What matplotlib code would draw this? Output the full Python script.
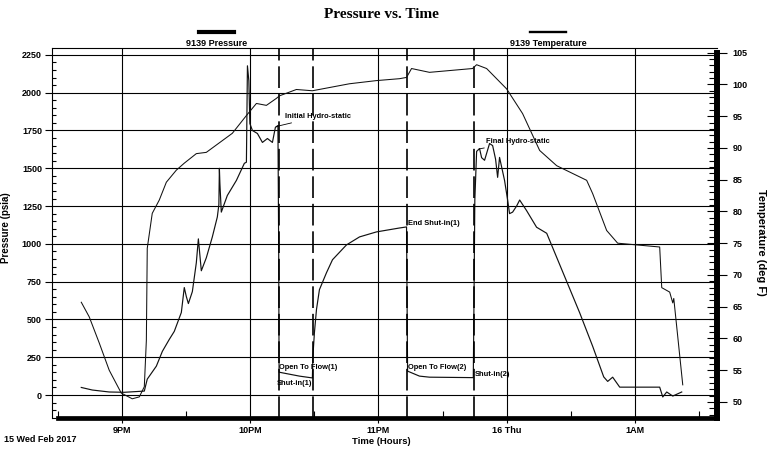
import matplotlib
matplotlib.use("Agg")
import matplotlib.pyplot as plt
from matplotlib.lines import Line2D
from matplotlib.ticker import MultipleLocator

plt.rcParams['font.family'] = ['Liberation Sans', 'DejaVu Sans']
plt.rcParams['font.weight'] = 'bold'

# Time in hours since midnight 15 Feb 2017 (24 = midnight of the 16th)
pressure_hours = [20.680, 20.766, 20.898, 21.016, 21.172, 21.195, 21.266, 21.313, 21.367, 21.406,
                  21.461, 21.484, 21.500, 21.516, 21.547, 21.578, 21.594, 21.617, 21.656, 21.703,
                  21.742, 21.754, 21.758, 21.762, 21.773, 21.820, 21.891, 21.953, 21.969, 21.977,
                  21.988, 21.996, 22.016, 22.055, 22.094, 22.133, 22.172, 22.195, 22.215, 22.221,
                  22.224, 22.383, 22.484, 22.488, 22.500, 22.516, 22.539, 22.594, 22.641, 22.750,
                  22.852, 22.984, 23.164, 23.219, 23.227, 23.320, 23.398, 23.740, 23.746, 23.752,
                  23.766, 23.789, 23.805, 23.828, 23.867, 23.891, 23.914, 23.930, 23.945, 23.984,
                  24.008, 24.023, 24.047, 24.078, 24.102, 24.156, 24.234, 24.313, 24.570, 24.672,
                  24.758, 24.789, 24.828, 24.883, 25.195, 25.219, 25.250, 25.297, 25.367]
pressure_psia = [50, 33, 20, 18, 26, 105, 191, 289, 368, 421,
                 546, 711, 651, 605, 684, 875, 1033, 822, 908, 1046,
                 1178, 1260, 1500, 1400, 1210, 1320, 1420, 1533, 1540, 2178,
                 2079, 1796, 1750, 1730, 1671, 1697, 1671, 1770, 1783, 960,
                 151, 125, 113, 257, 414, 566, 697, 809, 895, 993,
                 1046, 1079, 1105, 1112, 158, 125, 118, 115, 678, 1290,
                 1612, 1630, 1570, 1553, 1664, 1650, 1560, 1440, 1572, 1420,
                 1290, 1200, 1210, 1250, 1290, 1220, 1110, 1070, 545, 322,
                 120, 90, 118, 52, 52, -13, 20, -7, 20]

temperature_hours = [20.680, 20.742, 20.820, 20.898, 20.992, 21.078, 21.133, 21.172, 21.188, 21.195,
                     21.234, 21.289, 21.344, 21.422, 21.484, 21.578, 21.656, 21.859, 21.969, 22.047,
                     22.125, 22.203, 22.227, 22.359, 22.484, 22.773, 22.984, 23.164, 23.219, 23.258,
                     23.398, 23.734, 23.766, 23.844, 24.000, 24.125, 24.258, 24.391, 24.625, 24.672,
                     24.781, 24.867, 25.195, 25.211, 25.273, 25.297, 25.305, 25.375]
temperature_degf = [65.7, 63.4, 59.3, 55.0, 51.4, 50.5, 50.8, 52.4, 59.7, 74.2,
                    79.7, 81.8, 84.6, 86.5, 87.6, 89.1, 89.3, 92.3, 95.1, 97.0,
                    96.7, 97.8, 98.2, 99.2, 99.0, 100.1, 100.6, 100.9, 101.1, 102.5,
                    101.9, 102.5, 103.1, 102.5, 99.3, 95.4, 89.6, 87.2, 84.9, 82.8,
                    77.0, 75.0, 74.4, 68.0, 67.3, 65.6, 66.3, 52.7]

# Test events (dashed markers)
event_hours = [22.223, 22.489, 23.223, 23.746]

# Event labels: text, hour, pressure
event_labels = ["Open To Flow(1)", "Shut-in(1)", "End Shut-in(1)", "Open To Flow(2)", "Shut-in(2)"]
event_label_hours = [22.227, 22.208, 23.230, 23.230, 23.753]
event_label_psia = [179, 79, 1132, 185, 139]

hour_ticks = [21, 22, 23, 24, 25]
hour_labels = ["9PM", "10PM", "11PM", "16 Thu", "1AM"]

fig = plt.figure(figsize=(7.68, 4.49), dpi=100)
ax = fig.add_axes([0.0673, 0.0684, 0.8669, 0.8241])
ax2 = ax.twinx()

# Curves
ax.plot(pressure_hours, pressure_psia, color='#111111', lw=0.85)
ax2.plot(temperature_hours, temperature_degf, color='#111111', lw=0.75)

for hour in event_hours:
    ax.axvline(hour, color='black', lw=1.2, linestyle=(0, (13, 3.5)))

for text, hour, psia in zip(event_labels, event_label_hours, event_label_psia):
    ax.text(hour, psia, text, fontsize=5.4, va='center', ha='left')

ax.annotate("Initial Hydro-static", xy=(22.200, 1776), xytext=(22.270, 1842),
            fontsize=5.4, va='center', ha='left',
            arrowprops=dict(arrowstyle='-', lw=0.6, color='black', shrinkA=0, shrinkB=0))
ax.annotate("Final Hydro-static", xy=(23.785, 1628), xytext=(23.839, 1676),
            fontsize=5.4, va='center', ha='left',
            arrowprops=dict(arrowstyle='-', lw=0.6, color='black', shrinkA=0, shrinkB=0))

# Axes ranges
ax.set_xlim(20.449, 25.646)
ax.set_ylim(-154, 2294)
ax2.set_ylim(47.43, 105.69)

# Ticks
ax.set_xticks(hour_ticks)
ax.set_xticklabels(hour_labels)
ax.xaxis.set_minor_locator(MultipleLocator(0.5))
ax.set_yticks(range(0, 2251, 250))
ax.yaxis.set_minor_locator(MultipleLocator(50))
ax2.set_yticks(range(50, 106, 5))
ax2.yaxis.set_minor_locator(MultipleLocator(1))

ax.tick_params(axis='x', which='major', direction='out', length=3.4, width=0.8, pad=2, labelsize=6.5)
ax.tick_params(axis='x', which='minor', direction='in', length=4.7, width=0.8)
ax.tick_params(axis='y', which='major', direction='out', length=5, width=0.8, pad=2, labelsize=6.5)
ax.tick_params(axis='y', which='minor', direction='in', length=3, width=0.8)
ax2.tick_params(axis='y', which='major', direction='inout', length=14, width=0.8, pad=4, labelsize=6.5)
ax2.tick_params(axis='y', which='minor', direction='in', length=6, width=0.8)

ax.grid(True, which='major', color='black', lw=0.8)

# Spines
ax.spines['left'].set_linewidth(0.8)
ax.spines['top'].set_linewidth(0.8)
ax.spines['right'].set_visible(False)
ax.spines['bottom'].set_linewidth(3.4)
ax.spines['bottom'].set_bounds(20.495, 25.646)
for side in ['left', 'top', 'bottom']:
    ax2.spines[side].set_visible(False)
ax2.spines['right'].set_linewidth(4.3)
ax2.spines['right'].set_bounds(47.43, 105)

# Titles and labels
fig.text(0.497, 1 - 15 / 449, "Pressure vs. Time", fontfamily='Liberation Serif',
         fontweight='bold', fontsize=11, ha='center', va='center')
fig.text(6 / 768, 1 - 228 / 449, "Pressure (psia)", rotation=90, fontsize=7, ha='center', va='center')
fig.text(761 / 768, 1 - 242 / 449, "Temperature (deg F)", rotation=270, fontsize=8, ha='center', va='center')
fig.text(381 / 768, 1 - 441 / 449, "Time (Hours)", fontsize=6.8, ha='center', va='center')
fig.text(4 / 768, 1 - 440 / 449, "15 Wed Feb 2017", fontsize=6.5, ha='left', va='center')

# Legend entries above the plot
fig.add_artist(Line2D([199 / 768, 234 / 768], [1 - 32 / 449] * 2, color='black', lw=3))
fig.text(217 / 768, 1 - 43 / 449, "9139 Pressure", fontsize=6.5, ha='center', va='center')
fig.add_artist(Line2D([530 / 768, 566 / 768], [1 - 32 / 449] * 2, color='black', lw=1.7))
fig.text(548 / 768, 1 - 43 / 449, "9139 Temperature", fontsize=6.5, ha='center', va='center')

fig.savefig("out.png", dpi=100)
